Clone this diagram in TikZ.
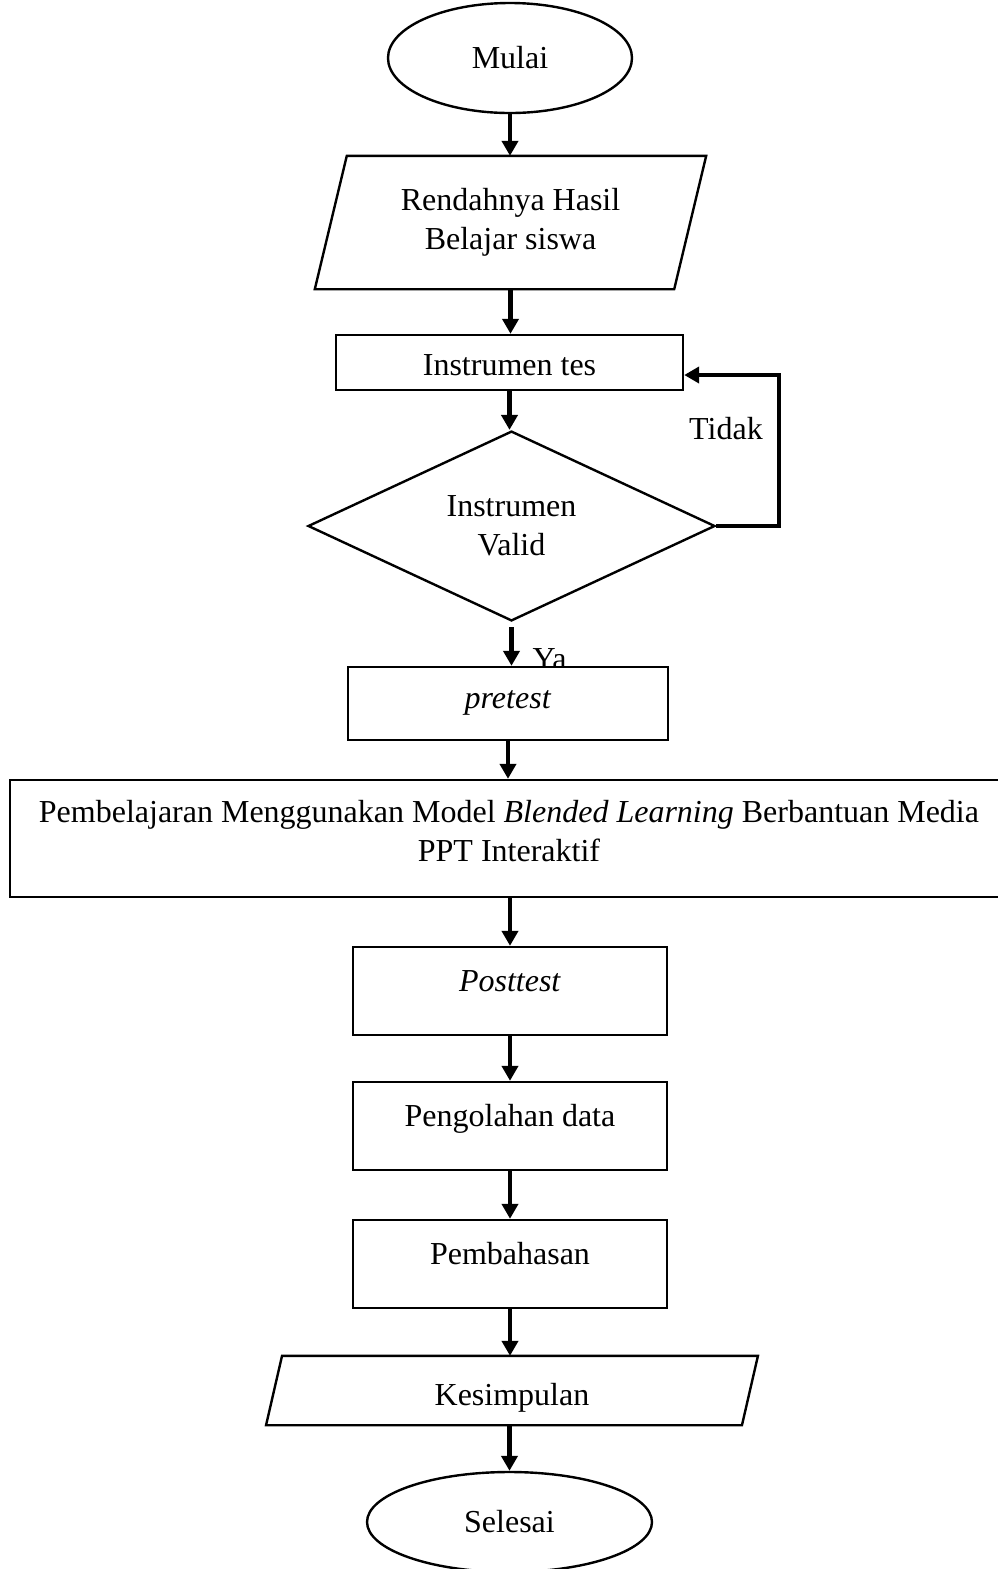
\documentclass[tikz,border=0pt]{standalone}
\usepackage{fontspec}
\setmainfont{Liberation Serif}
\usetikzlibrary{shapes.geometric,arrows.meta}
\newdimen\pxu \pxu=0.375pt
\begin{document}
\begin{tikzpicture}[x=0.375pt,y=-0.375pt, font=\fontsize{12}{14.5}\selectfont,
  shp/.style={draw, line width=0.9pt},
  boxn/.style={shp, rectangle, inner sep=0pt, align=center},
  onebox/.style={boxn, minimum width=314\pxu, minimum height=88\pxu, text height=8pt, text depth=8pt},
  conn/.style={line width=1.6pt, -{Triangle[width=6pt,length=5.6pt]}}]
\useasboundingbox (0,0) rectangle (998,1569);
\clip (0,0) rectangle (998,1569);

% start
\node[shp, ellipse, minimum width=244\pxu, minimum height=110\pxu, inner sep=0pt] (mulai) at (510,58) {Mulai};

% parallelogram 1
\node[boxn, draw=none, minimum width=357\pxu, minimum height=131\pxu] (rend) at (510.5,222.5) {Rendahnya Hasil\\Belajar siswa};
\draw[shp] ([xshift=16\pxu]rend.north west) -- ([xshift=16\pxu]rend.north east) -- ([xshift=-16\pxu]rend.south east) -- ([xshift=-16\pxu]rend.south west) -- cycle;

% instrumen tes
\node[boxn, minimum width=347\pxu, minimum height=55\pxu, text height=10pt, text depth=0.6pt] (tes) at (509.5,362.5) {Instrumen tes};

% decision
\node[shp, diamond, minimum width=407\pxu, minimum height=182\pxu, inner sep=0pt, align=center] (valid) at (511.5,526) {Instrumen\\Valid};

% Ya label (partly hidden by the pretest box)
\node[anchor=base west, inner sep=0pt] (ya) at (532,669) {Ya};

% pretest
\node[boxn, fill=white, minimum width=320\pxu, minimum height=73\pxu, text height=7pt, text depth=3.6pt] (pre) at (508,703.5) {\textit{pretest}};

% wide box
\node[boxn, minimum width=1010\pxu, minimum height=117\pxu] (learn) at (515,838.5) {};
\node[anchor=north, inner sep=0pt, align=center] (learntxt) at (509,800) {Pembelajaran Menggunakan Model \textit{Blended Learning} Berbantuan Media\\PPT Interaktif};

% lower boxes
\node[onebox] (post) at (510,991) {\textit{Posttest}};
\node[onebox] (olah) at (510,1126) {Pengolahan data};
\node[onebox] (bahas) at (510,1264) {Pembahasan};

% parallelogram 2
\node[boxn, draw=none, minimum width=473.5\pxu, minimum height=67\pxu, text height=11pt, text depth=0.1pt] (kes) at (512,1390.5) {Kesimpulan};
\draw[shp] ([xshift=8\pxu]kes.north west) -- ([xshift=8\pxu]kes.north east) -- ([xshift=-8\pxu]kes.south east) -- ([xshift=-8\pxu]kes.south west) -- cycle;

% end
\node[shp, ellipse, minimum width=285\pxu, minimum height=100\pxu, inner sep=0pt] (selesai) at (509.5,1522) {Selesai};

% connectors
\draw[conn] (mulai.south) -- (mulai.south |- rend.north);
\draw[conn] (rend.south) -- (rend.south |- tes.north);
\draw[conn] (tes.south) -- (tes.south |- valid.north);
\draw[conn, shorten <=2pt] (valid.south) -- (valid.south |- pre.north);
\draw[conn] (pre.south) -- (pre.south |- learn.north);
\draw[conn] (post.north |- learn.south) -- (post.north);
\draw[conn] (post.south) -- (olah.north);
\draw[conn] (olah.south) -- (bahas.north);
\draw[conn] (bahas.south) -- (bahas.south |- kes.north);
\draw[conn] (selesai.north |- kes.south) -- (selesai.north);

% loop back
\draw[conn] (valid.east) -- ++(63,0) |- ([yshift=-12.5\pxu]tes.east);
\node (tidak) at (726,429) {Tidak};
\end{tikzpicture}
\end{document}
